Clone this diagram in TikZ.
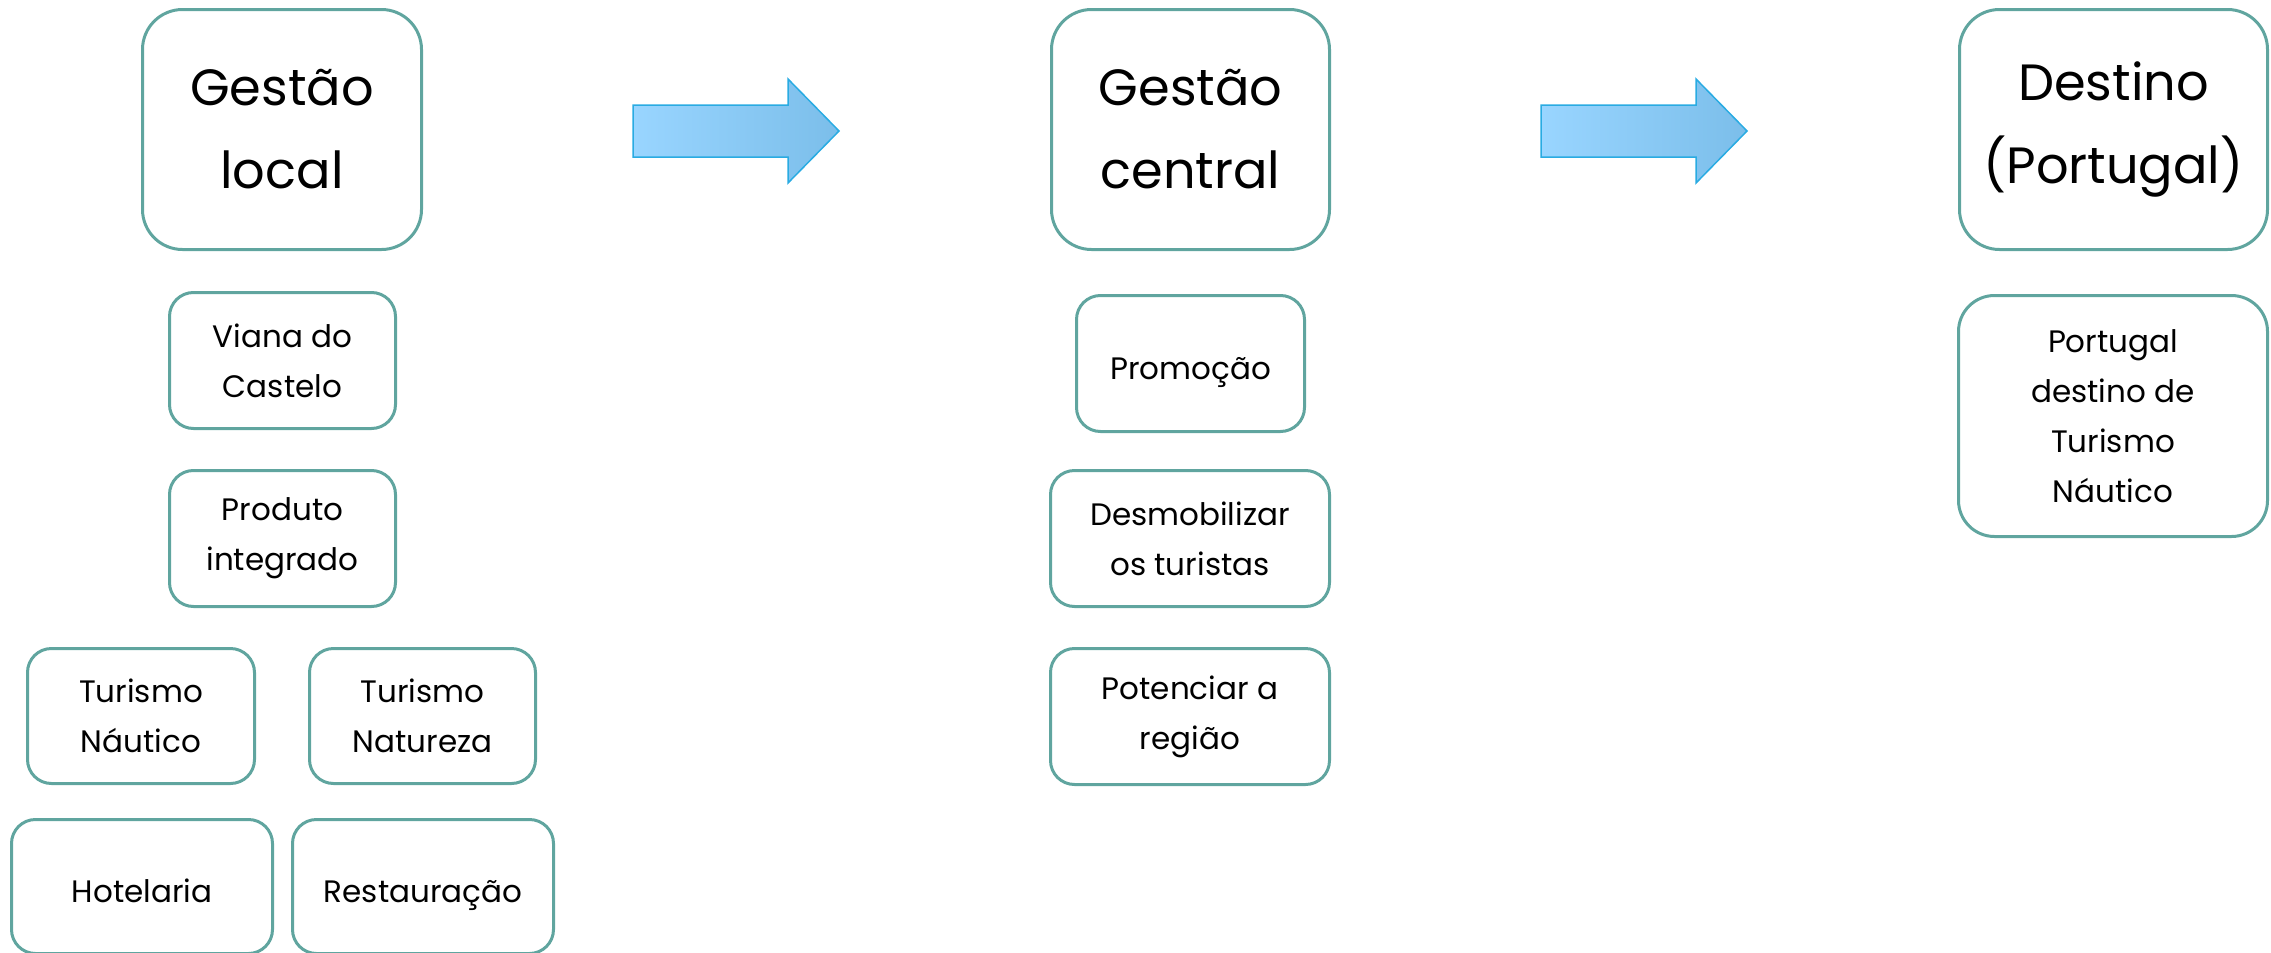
\documentclass[tikz,border=0pt]{standalone}
\usepackage{fontspec}
\setmainfont{Poppins}
\definecolor{boxline}{RGB}{96,165,159}
\definecolor{arrowline}{RGB}{41,171,226}
\definecolor{arrowleft}{RGB}{153,213,255}
\definecolor{arrowright}{RGB}{123,190,234}
\tikzset{
  bigbox/.style={draw=boxline, line width=3pt, rounded corners=40pt, inner sep=0pt, align=center,
    font={\fontsize{51}{83}\selectfont}},
  smallbox/.style={draw=boxline, line width=3pt, rounded corners=24pt, inner sep=0pt, align=center,
    font={\fontsize{31}{50}\selectfont}},
  oneline/.style={text height=31pt, text depth=0pt},
  blockarrow/.style={draw=arrowline, line width=1.5pt, left color=arrowleft, right color=arrowright}
}
\begin{document}
\begin{tikzpicture}[x=1pt,y=-1pt]
\useasboundingbox (0,0) rectangle (2271,953);
% left column
\node[bigbox, minimum width=279pt, minimum height=240pt] (gl) at (282,129.5) {Gestão\\local};
\node[smallbox, minimum width=226pt, minimum height=136pt] (viana) at (282.5,360.5) {Viana do\\Castelo};
\node[smallbox, minimum width=226pt, minimum height=136pt] (produto) at (282.5,538.5) {Produto\\integrado};
\node[smallbox, minimum width=227pt, minimum height=135pt] (tnau) at (141,716) {Turismo\\Náutico};
\node[smallbox, minimum width=226pt, minimum height=135pt] (tnat) at (422.5,716) {Turismo\\Natureza};
\node[smallbox, oneline, minimum width=261pt, minimum height=134pt] (hot) at (142,886.5) {Hotelaria};
\node[smallbox, oneline, minimum width=261pt, minimum height=134pt] (rest) at (423,886.5) {Restauração};
% middle column
\node[bigbox, minimum width=278pt, minimum height=240pt] (gc) at (1190.5,129.5) {Gestão\\central};
\node[smallbox, oneline, minimum width=228pt, minimum height=136pt] (prom) at (1190.5,363.5) {Promoção};
\node[smallbox, minimum width=279pt, minimum height=136pt] (desm) at (1190,538.5) {Desmobilizar\\os turistas};
\node[smallbox, minimum width=279pt, minimum height=136pt] (pot) at (1190,716.5) {Potenciar a\\região};
% right column
\node[bigbox, minimum width=308pt, minimum height=240pt] (dest) at (2113.5,129.5) {Destino\\(Portugal)};
\node[smallbox, minimum width=309pt, minimum height=241pt, rounded corners=36pt] (pdt) at (2113,416) {Portugal\\destino de\\Turismo\\Náutico};
% block arrows
\path[blockarrow] (633,105) -- (788,105) -- (788,79) -- (839,131) -- (788,183) -- (788,157) -- (633,157) -- cycle;
\path[blockarrow] (1541,105) -- (1696,105) -- (1696,79) -- (1747,131) -- (1696,183) -- (1696,157) -- (1541,157) -- cycle;
\end{tikzpicture}
\end{document}
